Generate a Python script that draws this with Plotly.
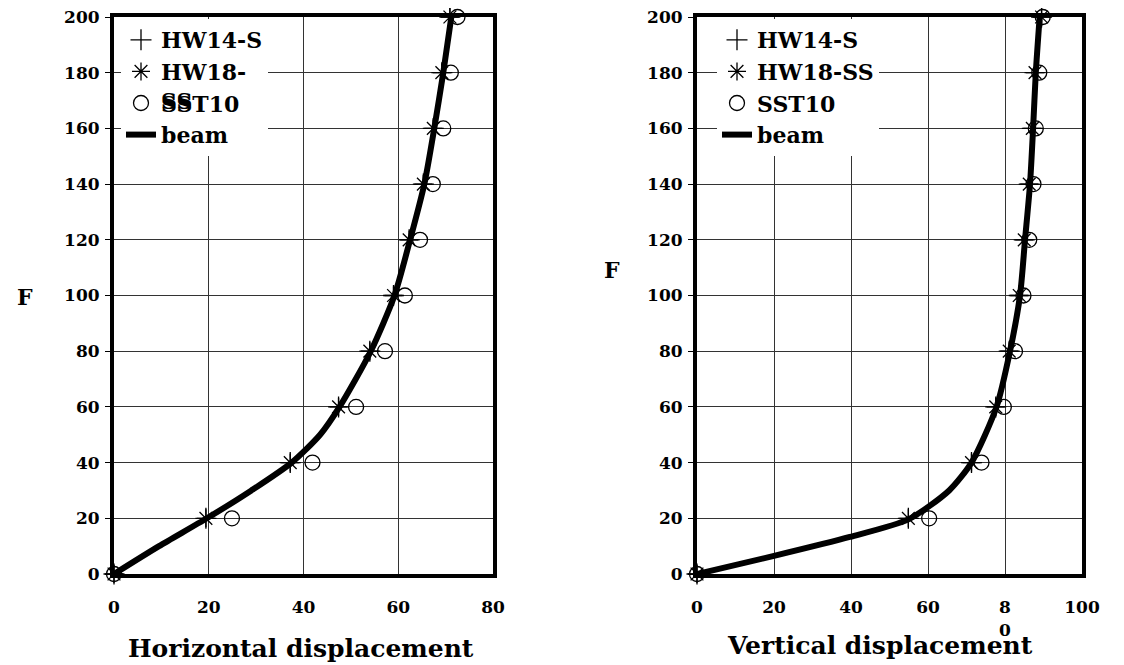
import plotly.graph_objects as go

# ---------------- data ----------------
F = [0, 20, 40, 60, 80, 100, 120, 140, 160, 180, 200]

# Horizontal displacement (left panel)
h_hw14 = [0, 19.4, 37.2, 47.4, 54.0, 59.0, 62.3, 65.3, 67.4, 69.2, 70.9]
h_hw18 = [0, 19.4, 37.2, 47.4, 54.0, 59.0, 62.3, 65.3, 67.4, 69.2, 70.9]
h_sst10 = [0, 24.9, 41.9, 51.1, 57.2, 61.4, 64.6, 67.3, 69.5, 71.1, 72.5]
beam_h_F = [0, 10, 20, 30, 40, 50, 60, 80, 100, 120, 140, 160, 180, 200]
beam_h = [0, 9.5, 19.6, 29.0, 37.5, 43.5, 47.6, 54.2, 59.2, 62.5, 65.5, 67.6, 69.5, 71.2]

# Vertical displacement (right panel)
v_hw14 = [0, 54.9, 71.3, 77.6, 81.1, 83.7, 85.0, 86.3, 87.1, 87.8, 89.5]
v_hw18 = [0, 54.9, 71.3, 77.6, 81.1, 83.7, 85.0, 86.3, 87.1, 87.8, 89.5]
v_sst10 = [0, 60.3, 73.9, 79.7, 82.6, 84.8, 86.3, 87.4, 88.0, 88.9, 89.8]
beam_v_F = [0, 6.5, 13.3, 19.6, 30, 40, 60, 80, 100, 120, 140, 160, 180, 200]
beam_v = [0, 20, 39.7, 54.9, 65.5, 71.3, 77.8, 81.3, 83.9, 85.2, 86.5, 87.3, 88.0, 89.0]

x_ticks_h = [0, 20, 40, 60, 80]
x_labels_h = ["0", "20", "40", "60", "80"]
x_ticks_v = [0, 20, 40, 60, 80, 100]
x_labels_v = ["0", "20", "40", "60", "8<br>0", "100"]
y_ticks = [0, 20, 40, 60, 80, 100, 120, 140, 160, 180, 200]

# ---------------- figure ----------------
OFF = 8                      # default page margin around the plot div
W, H = 1124, 665
FONT = "DejaVu Serif"

fig = go.Figure()

def add_panel(xa, ya, leg, xs_hw14, xs_hw18, xs_sst, bF, bx, names):
    mk = dict(color="black", size=15, line=dict(color="black", width=1.3))
    fig.add_trace(go.Scatter(x=xs_hw14, y=F, mode="markers", name=names[0],
                             marker=dict(symbol="cross-thin-open", **mk),
                             xaxis=xa, yaxis=ya, legend=leg, cliponaxis=False))
    fig.add_trace(go.Scatter(x=xs_hw18, y=F, mode="markers", name=names[1],
                             marker=dict(symbol="asterisk-open", **mk),
                             xaxis=xa, yaxis=ya, legend=leg, cliponaxis=False))
    fig.add_trace(go.Scatter(x=xs_sst, y=F, mode="markers", name=names[2],
                             marker=dict(symbol="circle-open", **mk),
                             xaxis=xa, yaxis=ya, legend=leg, cliponaxis=False))
    fig.add_trace(go.Scatter(x=bx, y=bF, mode="lines", name=names[3],
                             line=dict(color="black", width=6, shape="spline", smoothing=0.7),
                             xaxis=xa, yaxis=ya, legend=leg, cliponaxis=False))

add_panel("x", "y", "legend", h_hw14, h_hw18, h_sst10, beam_h_F, beam_h,
          ["HW14-S", "HW18-", "SST10", "beam"])
add_panel("x2", "y2", "legend2", v_hw14, v_hw18, v_sst10, beam_v_F, beam_v,
          ["HW14-S", "HW18-SS", "SST10", "beam"])

tickfont = dict(family=FONT, size=17, color="black", weight="bold")

def px_x(p):
    return (p - OFF) / W

def px_y(p):
    return 1 - (p - OFF) / H

common_x = dict(showgrid=True, gridcolor="#333", gridwidth=1, zeroline=False,
                showline=True, linecolor="black", linewidth=4, mirror=True,
                ticks="", tickfont=tickfont, ticklabelstandoff=15, automargin=False,
                ticklabeloverflow="allow")
common_y = dict(showgrid=True, gridcolor="#333", gridwidth=1, zeroline=False,
                showline=True, linecolor="black", linewidth=4, mirror=True,
                ticks="outside", ticklen=5, tickwidth=1, tickcolor="black",
                ticklabelstandoff=2, ticklabeloverflow="allow",
                tickfont=tickfont, tickvals=y_ticks, range=[0, 200], automargin=False)

ydom = [px_y(574), px_y(17)]
legfont = dict(family=FONT, size=22, color="black", weight="bold")

fig.update_layout(
    width=W, height=H,
    margin=dict(l=0, r=0, t=0, b=0, pad=0, autoexpand=False),
    paper_bgcolor="white", plot_bgcolor="white",
    xaxis=dict(domain=[px_x(114), px_x(493)], range=[0, 80], tickvals=x_ticks_h,
               ticktext=x_labels_h, anchor="y", **common_x),
    yaxis=dict(domain=ydom, anchor="x", **common_y),
    xaxis2=dict(domain=[px_x(697), px_x(1082)], range=[0, 100], tickvals=x_ticks_v,
                ticktext=x_labels_v, anchor="y2", **common_x),
    yaxis2=dict(domain=ydom, anchor="x2", **common_y),
    legend=dict(x=px_x(121), y=px_y(19), xanchor="left", yanchor="top",
                bgcolor="white", borderwidth=0, font=legfont,
                tracegroupgap=0, itemwidth=30),
    legend2=dict(x=px_x(717), y=px_y(19), xanchor="left", yanchor="top",
                 bgcolor="white", borderwidth=0, font=legfont,
                 tracegroupgap=0, itemwidth=30),
    showlegend=True,
)

titlefont = dict(family=FONT, size=25, color="black", weight="bold")
fig.add_annotation(text="Horizontal displacement", x=px_x(301), y=px_y(648),
                   xref="paper", yref="paper", showarrow=False, font=titlefont,
                   xanchor="center", yanchor="middle")
fig.add_annotation(text="Vertical displacement", x=px_x(880), y=px_y(645),
                   xref="paper", yref="paper", showarrow=False, font=titlefont,
                   xanchor="center", yanchor="middle")
fig.add_annotation(text="F", x=px_x(15), y=px_y(297), xref="paper", yref="paper",
                   showarrow=False, font=dict(family=FONT, size=22, color="black", weight="bold"))
fig.add_annotation(text="F", x=px_x(612), y=px_y(270), xref="paper", yref="paper",
                   showarrow=False, font=dict(family=FONT, size=22, color="black", weight="bold"))
# overlapping wrapped fragment of "HW18-SS" in the left legend
fig.add_annotation(text="SS", x=px_x(159), y=px_y(101), xref="paper", yref="paper",
                   showarrow=False, font=legfont, xanchor="left", yanchor="middle")

fig.write_html("out.html")
